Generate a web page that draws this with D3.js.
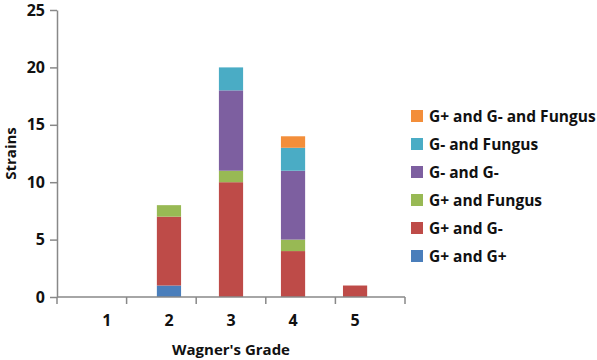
<!DOCTYPE html>
<html>
<head>
<meta charset="utf-8">
<script src="https://cdn.jsdelivr.net/npm/d3@7"></script>
<style>
  body { margin: 0; background: #fff; }
  text { font-family: "Open Sans", "DejaVu Sans", sans-serif; font-weight: bold; fill: #111; }
</style>
</head>
<body>
<div id="chart"></div>
<script>
const grades = ["1", "2", "3", "4", "5"];
const seriesNames = ["G+ and G+", "G+ and G-", "G+ and Fungus", "G- and G-", "G- and Fungus", "G+ and G- and Fungus"];
const gPlusGPlus = [0, 1, 0, 0, 0];
const gPlusGMinus = [0, 6, 10, 4, 1];
const gPlusFungus = [0, 1, 1, 1, 0];
const gMinusGMinus = [0, 0, 7, 6, 0];
const gMinusFungus = [0, 0, 2, 2, 0];
const gPlusGMinusFungus = [0, 0, 0, 1, 0];
const yTicks = [0, 5, 10, 15, 20, 25];
const colors = ["#4A7EBB", "#BE4B48", "#98B954", "#7D5FA0", "#4AACC5", "#F38E3A"];

function init(){
    const width = 597, height = 360;
    const margin = {left: 57, right: 192, top: 10, bottom: 63};

    const svg = d3.select("#chart").append("svg")
                  .attr("width", width)
                  .attr("height", height);

    const allSeries = [gPlusGPlus, gPlusGMinus, gPlusFungus, gMinusGMinus, gMinusFungus, gPlusGMinusFungus];
    const rows = grades.map((g, i) => {
        const row = {grade: g};
        seriesNames.forEach((s, j) => row[s] = allSeries[j][i]);
        return row;
    });

    const stacked = d3.stack().keys(seriesNames)(rows);

    const x = d3.scaleBand()
                .domain(grades)
                .range([margin.left, width - margin.right])
                .padding(0.61);

    const y = d3.scaleLinear()
                .domain([0, 25])
                .range([height - margin.bottom, margin.top]);

    const color = d3.scaleOrdinal().domain(seriesNames).range(colors);

    //Bars
    svg.append("g")
        .selectAll("g")
        .data(stacked)
        .enter().append("g")
        .attr("fill", d => color(d.key))
        .selectAll("rect")
        .data(d => d.filter(p => p[1] - p[0] > 0))
        .enter().append("rect")
        .attr("x", d => x(d.data.grade))
        .attr("y", d => y(d[1]))
        .attr("width", x.bandwidth())
        .attr("height", d => y(d[0]) - y(d[1]));

    //Y axis
    const yAxis = svg.append("g")
        .attr("transform", `translate(${margin.left},0)`)
        .call(d3.axisLeft(y).tickValues(yTicks).tickSize(7).tickSizeOuter(0).tickPadding(5));
    yAxis.selectAll("text").style("font-size", "16px");

    //X axis with ticks at band edges
    const xAxisG = svg.append("g")
        .attr("transform", `translate(0,${y(0)})`);
    const x0 = margin.left, x1 = width - margin.right;
    xAxisG.append("line")
        .attr("x1", x0).attr("x2", x1)
        .attr("y1", 0).attr("y2", 0);
    d3.range(grades.length + 1).forEach(i => {
        xAxisG.append("line")
            .attr("x1", x0 + i * (x1 - x0) / grades.length)
            .attr("x2", x0 + i * (x1 - x0) / grades.length)
            .attr("y1", 0).attr("y2", 7);
    });
    xAxisG.selectAll("text.tick")
        .data(grades)
        .enter().append("text")
        .attr("class", "tick")
        .attr("x", d => x(d) + x.bandwidth() / 2)
        .attr("y", 29)
        .attr("text-anchor", "middle")
        .style("font-size", "16px")
        .text(d => d);

    svg.selectAll(".domain, .tick line").attr("stroke", "#888").attr("stroke-width", 1.5);
    xAxisG.selectAll("line").attr("stroke", "#888").attr("stroke-width", 1.5);

    //Axis titles
    svg.append("text")
        .attr("x", (x0 + x1) / 2)
        .attr("y", 355)
        .attr("text-anchor", "middle")
        .style("font-size", "15px")
        .text("Wagner's Grade");

    svg.append("text")
        .attr("transform", `translate(16,${(y(0) + y(25)) / 2}) rotate(-90)`)
        .attr("text-anchor", "middle")
        .style("font-size", "15px")
        .text("Strains");

    //Legend (reverse order, top = last series)
    const legend = svg.append("g")
        .selectAll("g")
        .data(seriesNames.slice().reverse())
        .enter().append("g")
        .attr("transform", (d, i) => `translate(411,${116 + i * 28})`);

    legend.append("rect")
        .attr("x", 0).attr("y", -6)
        .attr("width", 12).attr("height", 12)
        .attr("fill", d => color(d));

    legend.append("text")
        .attr("x", 18)
        .attr("y", 5.5)
        .style("font-size", "15.5px")
        .text(d => d);
}
window.onload = init;
</script>
</body>
</html>
